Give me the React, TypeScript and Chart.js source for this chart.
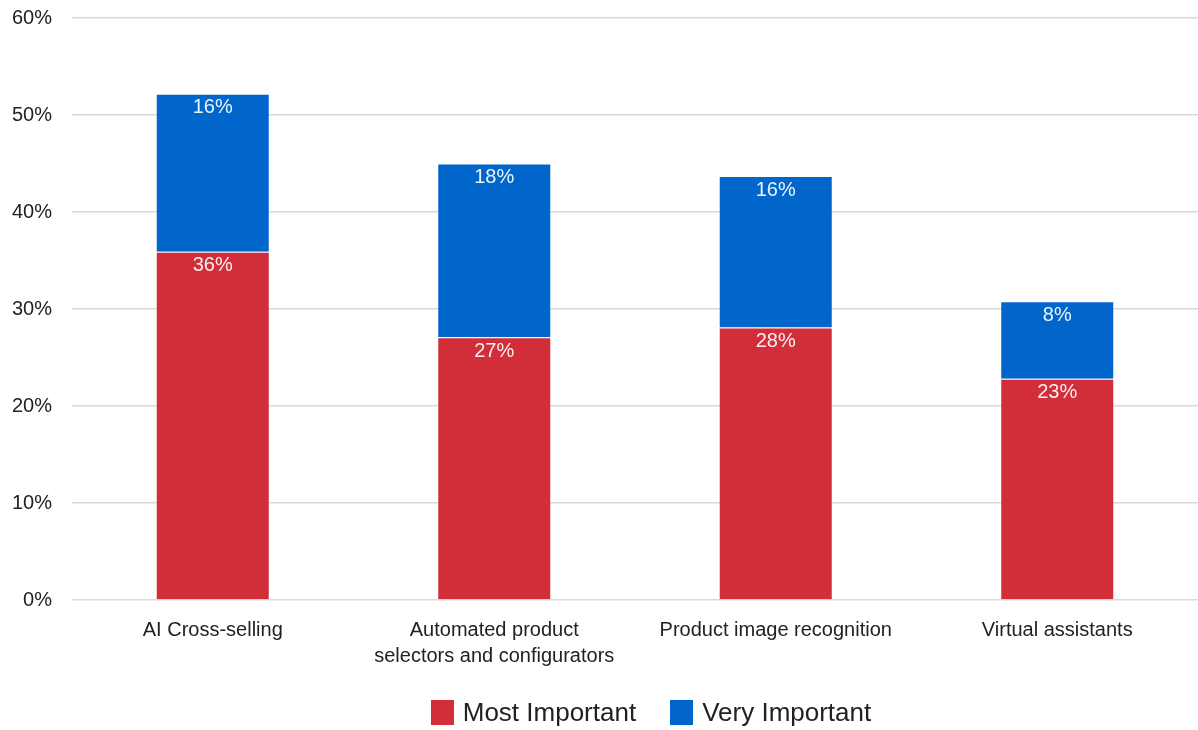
import React, { useEffect, useRef } from 'react';
import { Chart, registerables } from 'chart.js';

Chart.register(...registerables);

const categories: (string | string[])[] = [
  'AI Cross-selling',
  ['Automated product', 'selectors and configurators'],
  'Product image recognition',
  'Virtual assistants',
];
const mostImportant = [35.9, 27.1, 28.1, 22.8];
const veryImportant = [16.3, 17.9, 15.6, 8.0];
const seriesNames = ['Most Important', 'Very Important'];
const seriesColors = ['#D22E3A', '#0066CC'];
const yMax = 60;
const yStep = 10;

const FONT = '"Liberation Sans", Arial, Helvetica, sans-serif';

const valueLabels = {
  id: 'valueLabels',
  afterDatasetsDraw(chart: any) {
    const ctx = chart.ctx;
    ctx.save();
    ctx.font = `20px ${FONT}`;
    ctx.fillStyle = 'rgba(255,255,255,0.92)';
    ctx.textAlign = 'center';
    ctx.textBaseline = 'middle';
    chart.data.datasets.forEach((ds: any, di: number) => {
      const meta = chart.getDatasetMeta(di);
      meta.data.forEach((bar: any, i: number) => {
        const v = ds.data[i];
        ctx.fillText(`${Math.round(v)}%`, bar.x, bar.y + 14);
      });
    });
    ctx.restore();
  },
};

export default function App() {
  const ref = useRef<HTMLCanvasElement>(null);
  useEffect(() => {
    document.body.style.margin = '0';
    const chart = new Chart(ref.current!, {
      type: 'bar',
      data: {
        labels: categories,
        datasets: [
          {
            label: seriesNames[0],
            data: mostImportant,
            backgroundColor: seriesColors[0],
            borderColor: 'rgba(255,255,255,0.3)',
            borderWidth: 1,
            categoryPercentage: 1,
            barPercentage: 0.405,
          },
          {
            label: seriesNames[1],
            data: veryImportant,
            backgroundColor: seriesColors[1],
            borderColor: 'rgba(255,255,255,0.3)',
            borderWidth: 1,
            categoryPercentage: 1,
            barPercentage: 0.405,
          },
        ],
      },
      options: {
        animation: false,
        responsive: false,
        maintainAspectRatio: false,
        layout: { padding: { top: 18, right: 0, left: 0, bottom: 61 } },
        scales: {
          x: {
            stacked: true,
            grid: { display: false, drawTicks: false },
            border: { display: false },
            ticks: {
              color: '#222',
              font: { family: FONT, size: 20, lineHeight: 1.3 },
              padding: 17,
              maxRotation: 0,
              autoSkip: false,
            },
            afterFit: (s: any) => {
              s.height = 69;
            },
          },
          y: {
            stacked: true,
            min: 0,
            max: yMax,
            grid: { color: '#d9d9d9', lineWidth: 1.5, drawTicks: false },
            border: { display: false },
            ticks: {
              stepSize: yStep,
              color: '#222',
              padding: 20,
              font: { family: FONT, size: 20 },
              callback: (v: any) => `${v}%`,
            },
            afterFit: (s: any) => {
              s.width = 72;
              s.paddingTop = 0;
              s.paddingBottom = 0;
            },
          },
        },
        plugins: {
          tooltip: { enabled: false },
          legend: { display: false },
        },
      },
      plugins: [valueLabels],
    } as any);
    return () => chart.destroy();
  }, []);
  return (
    <div style={{ position: 'relative', width: 1198, height: 730 }}>
      <canvas ref={ref} width={1198} height={730} style={{ display: 'block' }} />
      <div
        style={{
          position: 'absolute',
          left: 104,
          right: 0,
          top: 698,
          display: 'flex',
          justifyContent: 'center',
          alignItems: 'center',
          gap: 34,
          fontFamily: FONT,
          fontSize: 26,
          color: '#222',
          lineHeight: '28px',
        }}
      >
        {seriesNames.map((n, i) => (
          <div key={n} style={{ display: 'flex', alignItems: 'center' }}>
            <span
              style={{
                display: 'inline-block',
                width: 23,
                height: 25,
                background: seriesColors[i],
                marginRight: 9,
              }}
            />
            <span>{n}</span>
          </div>
        ))}
      </div>
    </div>
  );
}
